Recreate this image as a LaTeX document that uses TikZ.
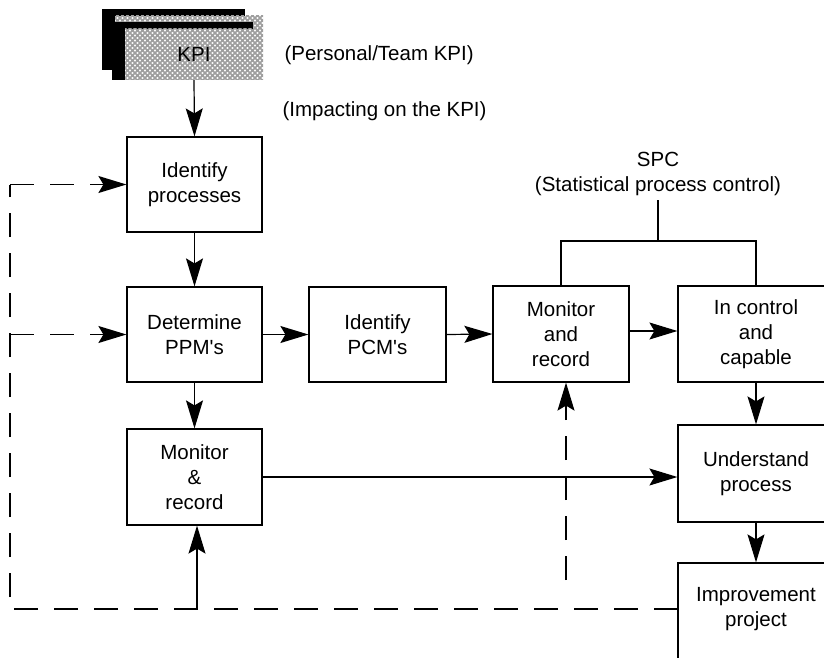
\documentclass[tikz,border=0pt]{standalone}
\usepackage{fontspec}
\setmainfont{Liberation Sans}
\usetikzlibrary{arrows.meta,patterns}
\pgfdeclarepatternformonly{kpimesh}{\pgfqpoint{-1pt}{-1pt}}{\pgfqpoint{6pt}{6pt}}{\pgfqpoint{5pt}{5pt}}{%
  \pgfsetlinewidth{1.5pt}%
  \pgfpathmoveto{\pgfqpoint{0pt}{0pt}}\pgfpathlineto{\pgfqpoint{5pt}{5pt}}%
  \pgfpathmoveto{\pgfqpoint{0pt}{5pt}}\pgfpathlineto{\pgfqpoint{5pt}{0pt}}%
  \pgfusepath{stroke}}
\begin{document}
\begin{tikzpicture}[x=1pt,y=-1pt,
  txt/.style={font=\fontsize{20.5}{25}\selectfont, align=center},
  box/.style={txt, draw, line width=1.2pt, rectangle, inner sep=0pt},
  conn/.style={line width=1.2pt},
  tip/.style={-{Stealth[length=28pt,width=17pt,inset=5pt]}},
  arr/.style={conn, tip},
  dsh/.style={conn, dash pattern=on 24pt off 16pt},
  card/.style={pattern=kpimesh, pattern color=gray!75}
]
\useasboundingbox (0,0) rectangle (824,658);
\clip (0,0) rectangle (824,658);

% KPI stacked cards
\fill[black] (102,9) rectangle (245,70);
\fill[white] (115,16) rectangle (263,29);
\fill[card] (115,16) rectangle (263,29);
\fill[black] (112,22) rectangle (253,80);
\fill[white] (125,29) rectangle (263,80);
\fill[card] (125,29) rectangle (263,80);
\node[txt, minimum width=138pt, minimum height=51pt, inner sep=0pt] (kpi) at (194,54.5) {KPI};

\node[txt, anchor=west] (lab1) at (281,55) {(Personal/Team KPI)};
\node[txt, anchor=west] (lab2) at (279,111) {(Impacting on the KPI)};

% boxes
\node[box, minimum width=135pt, minimum height=95pt] (idp) at (194.5,184.5) {Identify\\processes};
\node[box, minimum width=135pt, minimum height=95pt] (ppm) at (194.5,334.5) {Determine\\PPM\textquotesingle s};
\node[box, minimum width=135pt, minimum height=96pt] (mr1) at (194.5,477) {Monitor\\\&\\record};
\node[box, minimum width=137pt, minimum height=95pt] (pcm) at (377.5,334.5) {Identify\\PCM\textquotesingle s};
\node[box, minimum width=136pt, minimum height=96pt] (mr2) at (561,334) {Monitor\\and\\record};
\node[box, minimum width=156pt, minimum height=96pt] (ctl) at (756,334) {In control\\and\\capable};
\node[box, minimum width=156pt, minimum height=97pt] (und) at (756,473.5) {Understand\\process};
\node[box, minimum width=156pt, minimum height=100pt, text depth=12pt] (imp) at (756,613) {Improvement\\project};

% SPC
\node[txt, anchor=south, inner sep=4pt] (spc) at (658,200) {SPC\\(Statistical process control)};
\coordinate (br) at (658,241);
\draw[conn] (spc.south) -- (br);
\draw[conn] (mr2.north) -- (mr2.north |- br) -- (ctl.north |- br) -- (ctl.north);

% main arrows
\draw[arr] (kpi.south) -- (idp.north);
\draw[arr] (idp.south) -- (ppm.north);
\draw[arr] (ppm.south) -- (mr1.north);
\draw[arr] (ppm.east) -- (pcm.west);
\draw[arr] (pcm.east) -- (mr2.west);
\draw[arr] ([yshift=3pt]mr2.east) -- ([yshift=3pt]ctl.west);
\draw[arr] (ctl.south) -- (und.north);
\draw[arr] (und.south) -- (imp.north);
\draw[arr] (mr1.east) -- (mr1.east -| und.west);

% feedback
\coordinate (fb) at (678,609);
\coordinate (lc) at (10,609);
\coordinate (j1) at (197,609);
\coordinate (d2) at (566,580);
\draw[dsh] (fb) -- (lc) -- (lc |- idp.west);
\draw[dsh, tip] (lc |- idp.west) -- (idp.west);
\draw[dsh, tip] (lc |- ppm.west) -- (ppm.west);
\draw[arr] (j1) -- (j1 |- mr1.south);
\draw[dsh, tip] (d2) -- (d2 |- mr2.south);
\end{tikzpicture}
\end{document}
